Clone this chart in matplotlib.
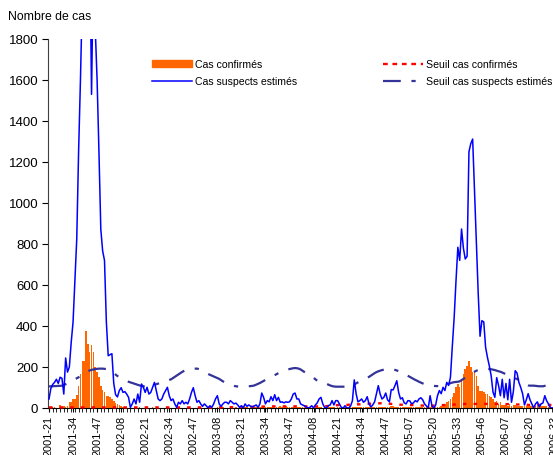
import numpy as np
import matplotlib
matplotlib.use("Agg")
import matplotlib.pyplot as plt
from matplotlib.patches import Patch
from matplotlib.lines import Line2D

plt.rcParams['font.family'] = ['Liberation Sans', 'DejaVu Sans']

# iso weeks shown on the axis (2001-21 ... 2006-33)
year_weeks = [(2001, 21, 52), (2002, 1, 52), (2003, 1, 52), (2004, 1, 53), (2005, 1, 52), (2006, 1, 33)]
week_labels = [f"{y}-{w:02d}" for y, w0, w1 in year_weeks for w in range(w0, w1 + 1)]

# estimated suspected cases, one value per week
susp_2001 = [44, 95, 115, 125, 140, 120, 150, 145, 68, 244,
             175, 200, 320, 419, 620, 824, 1250, 1600, 2000, 2400,
             2600, 2500, 2300, 1530, 2200, 1850, 1600, 1250, 873, 766,
             720, 420]
susp_2002 = [255, 260, 265, 120, 65, 54, 85, 99,
             76, 80, 68, 52, 3, 20, 44, 20, 68, 28,
             117, 101, 76, 101, 68, 76, 101, 125, 85, 44,
             36, 44, 68, 85, 101, 60, 36, 44, 20, 3,
             28, 20, 36, 20, 28, 20, 44, 76, 99, 60,
             28, 36, 20, 8]
susp_2003 = [20, 11, 0, 11, 3, 20,
             44, 60, 20, 8, 20, 28, 28, 20, 36, 28,
             20, 24, 15, 3, 11, 0, 20, 8, 15, 8,
             5, 10, 15, 3, 20, 73, 52, 20, 36, 30,
             55, 36, 65, 36, 52, 28, 30, 25, 30, 28,
             30, 44, 68, 73, 44, 44]
susp_2004 = [20, 15, 11, 5,
             0, 3, 11, 0, 15, 25, 44, 52, 20, 3,
             0, 11, 15, 36, 15, 36, 36, 20, 3, 0,
             11, 0, 0, 10, 35, 137, 70, 30, 36, 44,
             28, 36, 55, 20, 5, 15, 30, 70, 109, 68,
             44, 52, 73, 40, 30, 90, 88, 109, 133]
susp_2005 = [76,
             44, 50, 25, 20, 36, 35, 20, 25, 36, 30,
             44, 50, 40, 20, 10, 0, 60, 10, 0, 15,
             60, 85, 70, 101, 85, 125, 110, 150, 300, 440,
             620, 784, 720, 873, 780, 727, 740, 1250, 1290, 1312,
             1060, 800, 560, 350, 426, 420, 296, 247, 206, 158,
             78]
susp_2006 = [52, 148, 110, 60, 140, 50, 120, 40, 140,
             28, 80, 182, 170, 125, 100, 70, 15, 40, 70,
             40, 20, 0, 20, 30, 5, 20, 25, 60, 35,
             20, 0, 0]

# confirmed cases
conf_2001 = [3, 3, 5, 3, 2, 0, 15, 5, 10, 5,
             8, 28, 28, 44, 44, 63, 109, 166, 231, 231,
             377, 312, 272, 307, 272, 200, 175, 150, 105, 88,
             78, 60]
conf_2002 = [58, 55, 45, 32, 25, 20, 15, 10, 6, 4,
             3, 2, 2, 0, 0, 2, 0, 3, 1, 2,
             0, 2, 1, 0, 3, 2, 0, 1, 2, 0,
             2, 1, 3, 0, 2, 1, 0, 2, 3, 1,
             0, 2, 1, 3, 2, 0, 1, 2,
             2, 3, 1, 0]
conf_2003 = [2, 1, 3, 2, 0, 2, 1, 3, 2, 1,
             3, 2, 0, 2, 3, 1, 2, 3, 2, 1,
             3, 2, 4, 3, 2, 5, 3, 4, 6, 5,
             4, 6, 8, 5, 4, 6, 5, 7, 4, 6,
             5, 8, 6, 4, 10, 6, 5, 4, 3, 5,
             4, 3]
conf_2004 = [3, 4, 2, 3, 4, 3, 2, 4, 3, 5,
             3, 4, 2, 3, 4, 3, 5, 4, 3, 2,
             4, 3, 5, 4, 3, 4, 2, 3, 4, 3,
             5, 4, 3, 4, 5, 3, 4, 5, 3, 4,
             3, 5, 4, 3, 5, 4, 6, 5, 4, 8,
             10, 6, 4]
conf_2005 = [3, 4, 5, 3, 4, 3, 5, 4, 3, 4,
             3, 4, 3, 5, 4, 3, 4, 5, 3, 4,
             3, 5, 5, 8, 10, 20, 28, 36, 46, 55,
             75, 101, 117, 101, 133, 166, 190, 206, 231, 198,
             174, 180, 158, 109, 85, 85, 76, 68, 68, 60,
             55, 44]
conf_2006 = [28, 36, 20, 30, 15, 15, 15, 12, 20, 12,
             15, 15, 12, 12, 10, 12, 12, 10, 12, 8,
             10, 8, 12, 10, 8, 10, 12, 8, 10, 6,
             8, 5]

# alert threshold, suspected cases
ssusp_2001 = [105, 106, 106, 107, 107, 108, 108, 109, 112, 116,
              120, 125, 130, 135, 140, 145, 150, 155, 162, 168,
              174, 179, 183, 186, 188, 190, 191, 192, 192, 192,
              191, 190]
ssusp_2002 = [188, 185, 180, 172, 163, 156, 150, 145, 140, 136,
              132, 128, 125, 122, 119, 116, 113, 110, 108, 106,
              104, 103, 104, 106, 110, 113, 116, 119, 122, 125,
              128, 131, 134, 137, 140, 146, 152, 158, 164, 170,
              176, 181, 185, 188, 190, 191, 192, 192, 192, 190,
              187, 183]
ssusp_2003 = [178, 172, 166, 162, 158, 154, 150, 146, 142, 136,
              130, 125, 122, 118, 114, 111, 108, 106, 105, 104,
              104, 104, 104, 105, 106, 107, 108, 110, 114, 118,
              122, 127, 132, 137, 141, 145, 150, 155, 160, 165,
              170, 175, 178, 181, 184, 187, 190, 192, 194, 195,
              194, 192]
ssusp_2004 = [188, 182, 176, 170, 165, 160, 155, 148, 140, 133,
              127, 124, 122, 120, 118, 114, 110, 107, 105, 104,
              104, 104, 104, 104, 104, 105, 106, 108, 110, 115,
              120, 125, 130, 134, 138, 142, 146, 152, 158, 164,
              170, 175, 179, 182, 185, 187, 189, 190, 190, 190,
              189, 186, 183]
ssusp_2005 = [180, 178, 174, 168, 162, 157, 152, 147, 142, 137,
              133, 128, 124, 120, 117, 114, 112, 110, 109, 108,
              107, 107, 107, 108, 110, 112, 115, 118, 121, 124,
              126, 127, 128, 130, 136, 142, 148, 154, 160, 166,
              172, 177, 182, 185, 187, 189, 190, 190, 190, 190,
              189, 187]
ssusp_2006 = [185, 182, 179, 177, 173, 169, 165, 161, 157, 153,
              149, 145, 141, 137, 133, 127, 120, 114, 110, 109,
              109, 109, 108, 107, 106, 106, 106, 108, 110, 112,
              115, 117]

# alert threshold, confirmed cases
sconf_2001 = [3, 3, 3, 3, 3, 3, 3, 3, 3, 3,
              3, 3, 3, 3, 3, 3, 3, 3, 3, 3,
              3, 3, 3, 3, 3, 3, 3, 3, 3, 3,
              3, 3]
sconf_2002 = [3, 3, 3, 3, 3, 3, 3, 3, 3, 3,
              3, 3, 3, 3, 3, 3, 3, 3, 3, 3,
              3, 3, 3, 3, 3, 3, 3, 3, 3, 3,
              3, 3, 3, 3, 3, 3, 3, 3, 3, 3,
              3, 3, 3, 3, 3, 3, 3, 3, 3, 3,
              3, 3]
sconf_2003 = [3, 3, 3, 3, 3, 3, 3, 3, 3, 3,
              4, 4, 4, 4, 4, 4, 4, 4, 5, 5,
              5, 5, 5, 5, 6, 6, 6, 6, 6, 6,
              6, 7, 7, 7, 7, 7, 7, 8, 8, 8,
              8, 8, 8, 8, 8, 8, 8, 8, 8, 8,
              8, 8]
sconf_2004 = [8, 8, 8, 8, 8, 8, 8, 8, 8, 8,
              8, 8, 8, 9, 9, 10, 10, 11, 12, 13,
              14, 15, 15, 15, 15, 15, 16, 16, 16, 17,
              17, 18, 18, 19, 19, 20, 20, 21, 21, 22,
              22, 23, 23, 23, 23, 23, 22, 22, 21, 20,
              20, 19, 18]
sconf_2005 = [17, 16, 16, 16, 15, 15, 15, 14, 14, 13,
              13, 12, 12, 12, 11, 11, 11, 11, 11, 12,
              12, 13, 13, 14, 14, 15, 15, 15, 16, 16,
              17, 17, 18, 18, 19, 19, 20, 20, 20, 20,
              20, 20, 20, 20, 20, 20, 20, 20, 20, 20,
              20, 20]
sconf_2006 = [20, 20, 20, 20, 20, 20, 19, 19, 19, 18,
              18, 18, 17, 17, 17, 16, 16, 16, 15, 15,
              15, 15, 15, 15, 15, 15, 15, 15, 15, 15,
              15, 15]

suspects = susp_2001 + susp_2002 + susp_2003 + susp_2004 + susp_2005 + susp_2006
confirmes = conf_2001 + conf_2002 + conf_2003 + conf_2004 + conf_2005 + conf_2006
seuil_susp = ssusp_2001 + ssusp_2002 + ssusp_2003 + ssusp_2004 + ssusp_2005 + ssusp_2006
seuil_conf = sconf_2001 + sconf_2002 + sconf_2003 + sconf_2004 + sconf_2005 + sconf_2006

W, H = 553, 456
fig = plt.figure(figsize=(W / 100, H / 100), dpi=100)
# axes run a little past the right edge, as in the (cropped) original
x_right = 276
px_week = 1.85
ax = fig.add_axes([48 / W, 1 - 409 / H, (px_week * (x_right + 0.54)) / W, (409 - 40) / H])

ax.bar(np.arange(len(confirmes)), confirmes, width=0.85, color='#FF6600', zorder=1)
ax.plot(np.arange(len(seuil_susp)), seuil_susp, color='#333399', lw=1.6,
        dashes=(8, 4.8, 1.9, 4.8), zorder=2)
ax.plot(np.arange(len(seuil_conf)), seuil_conf, color='#FF0000', lw=1.7,
        dashes=(1.5, 3.0), zorder=3, clip_on=False)
ax.plot(np.arange(len(suspects)), suspects, color='#0000FF', lw=1.1, zorder=4)

ax.set_xlim(-0.54, x_right)
ax.set_ylim(0, 1800)
ax.set_yticks(range(0, 1801, 200))
ax.set_xticks(range(0, len(week_labels), 13))
ax.set_xticklabels(week_labels[::13], rotation=90)
ax.set_xticks(range(0, len(week_labels), 2), minor=True)
ax.tick_params(axis='x', which='both', length=3, pad=2, labelsize=7.9)
ax.tick_params(axis='y', length=4, pad=3, labelsize=9.5)

for s in ['top', 'right']:
    ax.spines[s].set_visible(False)
ax.spines['left'].set_color('#404040')
ax.spines['bottom'].set_color('#000000')

fig.text(8 / W, 1 - 17 / H, 'Nombre de cas', fontsize=8.8, va='center', ha='left')

h1 = [Patch(color='#FF6600'), Line2D([], [], color='#0000FF', lw=1.1)]
h2 = [Line2D([], [], color='#FF0000', lw=1.7, dashes=(2.0, 2.0)),
      Line2D([], [], color='#333399', lw=1.6, dashes=(8, 4.8, 1.9, 4.8))]
leg_kw = dict(loc='upper left', frameon=False, fontsize=7.6, borderpad=0,
              handlelength=3.8, handleheight=0.55, handletextpad=0.25, labelspacing=0.65)
leg1 = fig.legend(h1, ['Cas confirmés', 'Cas suspects estimés'],
                  bbox_to_anchor=(147 / W, 1 - 55 / H), **leg_kw)
leg2 = fig.legend(h2, ['Seuil cas confirmés', 'Seuil cas suspects estimés'],
                  bbox_to_anchor=(378 / W, 1 - 55 / H), **leg_kw)

fig.savefig('out.png', dpi=100)
